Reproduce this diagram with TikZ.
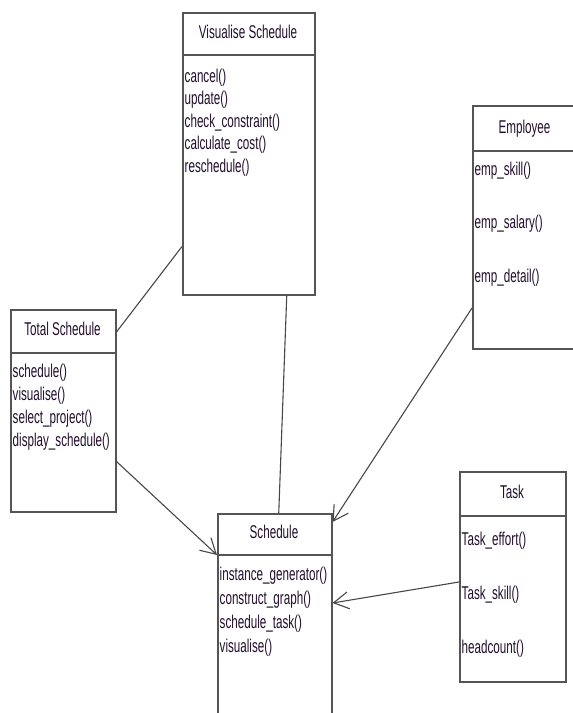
\documentclass[tikz,border=0pt]{standalone}
\usepackage{fontspec}
\setmainfont[FakeStretch=0.63]{Liberation Sans}
\usetikzlibrary{arrows.meta}
\definecolor{boxline}{RGB}{85,85,85}
\definecolor{umltext}{RGB}{35,15,45}
\tikzset{
	classbox/.style={draw=boxline, line width=1.5pt, fill=white, anchor=north west, inner sep=0pt},
	divider/.style={draw=boxline, line width=1.8pt},
	classtitle/.style={text=umltext, font=\fontsize{18.5}{20}\selectfont, anchor=base, inner sep=0pt},
	method/.style={text=umltext, font=\fontsize{18.5}{20}\selectfont, anchor=base west, inner sep=0pt},
	link/.style={draw=black!72, line width=1.1pt},
	uses/.style={link, -{Straight Barb[length=15pt,width=17pt,line width=1.1pt]}}
}
\begin{document}
\begin{tikzpicture}[x=1pt,y=-1pt]
	\useasboundingbox (0,0) rectangle (573,713);
	% class boxes
	\node[classbox, minimum width=132pt, minimum height=282pt] (vis) at (182,12) {};
	\node[classbox, minimum width=105pt, minimum height=243pt] (emp) at (472,105) {};
	\node[classbox, minimum width=105pt, minimum height=202pt] (ts) at (10,309) {};
	\node[classbox, minimum width=114pt, minimum height=220pt] (sched) at (217,513) {};
	\node[classbox, minimum width=106pt, minimum height=210pt] (task) at (459,471) {};
	% header lines
	\draw[divider] (182,55) -- (314,55);
	\draw[divider] (472,151) -- (577,151);
	\draw[divider] (10,353) -- (115,353);
	\draw[divider] (217,555) -- (331,555);
	\draw[divider] (459,516) -- (565,516);
	% class names
	\node[classtitle] (vis-t) at (248,38) {Visualise Schedule};
	\node[classtitle] (emp-t) at (524.5,133) {Employee};
	\node[classtitle] (ts-t) at (62.5,335.5) {Total Schedule};
	\node[classtitle] (sched-t) at (274,538.5) {Schedule};
	\node[classtitle] (task-t) at (512,498) {Task};
	% operations
	\foreach \m [count=\i] in {cancel(), update(), check\_constraint(), calculate\_cost(), reschedule()}
		\node[method] (vis-\i) at (184.5, {82+22.5*(\i-1)}) {\m};
	\foreach \m [count=\i] in {emp\_skill(), emp\_salary(), emp\_detail()}
		\node[method] (emp-\i) at (474.5, {175+53.5*(\i-1)}) {\m};
	\foreach \m [count=\i] in {schedule(), visualise(), select\_project(), display\_schedule()}
		\node[method] (ts-\i) at (12.5, {377+23.3*(\i-1)}) {\m};
	\foreach \m [count=\i] in {instance\_generator(), construct\_graph(), schedule\_task(), visualise()}
		\node[method] (sched-\i) at (219.5, {580+24.3*(\i-1)}) {\m};
	\foreach \m [count=\i] in {Task\_effort(), Task\_skill(), headcount()}
		\node[method] (task-\i) at (461.5, {545+54*(\i-1)}) {\m};
	% associations
	\draw[link] ([yshift=-23pt]ts.north east) -- ([yshift=49pt]vis.south west);
	\draw[link] ([xshift=38pt]vis.south) -- ([xshift=4pt]sched.north);
	\draw[uses] ([yshift=51pt]ts.south east) -- ([yshift=-42pt]sched.north west);
	\draw[uses] ([yshift=-203pt]emp.north west) -- ([yshift=-9pt]sched.north east);
	\draw[uses] ([yshift=-111pt]task.north west) -- ([yshift=-90pt]sched.north east);
\end{tikzpicture}
\end{document}
